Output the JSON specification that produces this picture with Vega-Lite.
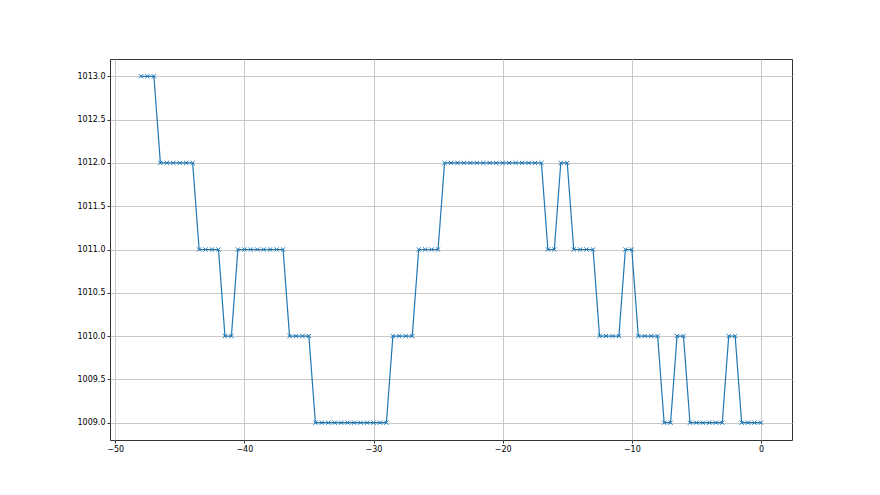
{
  "$schema": "https://vega.github.io/schema/vega-lite/v6.json",
  "autosize": {"type": "none"},
  "width": 682,
  "height": 381,
  "padding": {"left": 110, "top": 59, "right": 88, "bottom": 55},
  "background": "white",
  "config": {
    "view": {"stroke": "#333333", "strokeWidth": 1},
    "axis": {
      "labelFont": "DejaVu Sans",
      "labelFontSize": 8,
      "labelColor": "#000000",
      "domain": false,
      "tickColor": "#333333",
      "tickSize": 3,
      "tickWidth": 1,
      "gridColor": "#c8c8c8",
      "gridWidth": 1,
      "labelPadding": 2,
      "title": null
    }
  },
  "data": {
    "values": [
      {"t": -48, "p": 1013}, {"t": -47.5, "p": 1013}, {"t": -47, "p": 1013},
      {"t": -46.5, "p": 1012}, {"t": -46, "p": 1012}, {"t": -45.5, "p": 1012}, {"t": -45, "p": 1012}, {"t": -44.5, "p": 1012}, {"t": -44, "p": 1012},
      {"t": -43.5, "p": 1011}, {"t": -43, "p": 1011}, {"t": -42.5, "p": 1011}, {"t": -42, "p": 1011},
      {"t": -41.5, "p": 1010}, {"t": -41, "p": 1010},
      {"t": -40.5, "p": 1011}, {"t": -40, "p": 1011}, {"t": -39.5, "p": 1011}, {"t": -39, "p": 1011}, {"t": -38.5, "p": 1011}, {"t": -38, "p": 1011}, {"t": -37.5, "p": 1011}, {"t": -37, "p": 1011},
      {"t": -36.5, "p": 1010}, {"t": -36, "p": 1010}, {"t": -35.5, "p": 1010}, {"t": -35, "p": 1010},
      {"t": -34.5, "p": 1009}, {"t": -34, "p": 1009}, {"t": -33.5, "p": 1009}, {"t": -33, "p": 1009}, {"t": -32.5, "p": 1009}, {"t": -32, "p": 1009}, {"t": -31.5, "p": 1009}, {"t": -31, "p": 1009}, {"t": -30.5, "p": 1009}, {"t": -30, "p": 1009}, {"t": -29.5, "p": 1009}, {"t": -29, "p": 1009},
      {"t": -28.5, "p": 1010}, {"t": -28, "p": 1010}, {"t": -27.5, "p": 1010}, {"t": -27, "p": 1010},
      {"t": -26.5, "p": 1011}, {"t": -26, "p": 1011}, {"t": -25.5, "p": 1011}, {"t": -25, "p": 1011},
      {"t": -24.5, "p": 1012}, {"t": -24, "p": 1012}, {"t": -23.5, "p": 1012}, {"t": -23, "p": 1012}, {"t": -22.5, "p": 1012}, {"t": -22, "p": 1012}, {"t": -21.5, "p": 1012}, {"t": -21, "p": 1012}, {"t": -20.5, "p": 1012}, {"t": -20, "p": 1012}, {"t": -19.5, "p": 1012}, {"t": -19, "p": 1012}, {"t": -18.5, "p": 1012}, {"t": -18, "p": 1012}, {"t": -17.5, "p": 1012}, {"t": -17, "p": 1012},
      {"t": -16.5, "p": 1011}, {"t": -16, "p": 1011},
      {"t": -15.5, "p": 1012}, {"t": -15, "p": 1012},
      {"t": -14.5, "p": 1011}, {"t": -14, "p": 1011}, {"t": -13.5, "p": 1011}, {"t": -13, "p": 1011},
      {"t": -12.5, "p": 1010}, {"t": -12, "p": 1010}, {"t": -11.5, "p": 1010}, {"t": -11, "p": 1010},
      {"t": -10.5, "p": 1011}, {"t": -10, "p": 1011},
      {"t": -9.5, "p": 1010}, {"t": -9, "p": 1010}, {"t": -8.5, "p": 1010}, {"t": -8, "p": 1010},
      {"t": -7.5, "p": 1009}, {"t": -7, "p": 1009},
      {"t": -6.5, "p": 1010}, {"t": -6, "p": 1010},
      {"t": -5.5, "p": 1009}, {"t": -5, "p": 1009}, {"t": -4.5, "p": 1009}, {"t": -4, "p": 1009}, {"t": -3.5, "p": 1009}, {"t": -3, "p": 1009},
      {"t": -2.5, "p": 1010}, {"t": -2, "p": 1010},
      {"t": -1.5, "p": 1009}, {"t": -1, "p": 1009}, {"t": -0.5, "p": 1009}, {"t": 0, "p": 1009}
    ]
  },
  "encoding": {
    "x": {
      "field": "t", "type": "quantitative",
      "scale": {"domain": [-50.4, 2.4], "nice": false, "zero": false},
      "axis": {"values": [-50, -40, -30, -20, -10, 0], "format": "d"}
    },
    "y": {
      "field": "p", "type": "quantitative",
      "scale": {"domain": [1008.8, 1013.2], "nice": false, "zero": false},
      "axis": {"values": [1009, 1009.5, 1010, 1010.5, 1011, 1011.5, 1012, 1012.5, 1013], "format": ".1f"}
    }
  },
  "layer": [
    {"mark": {"type": "line", "color": "#1f77b4", "strokeWidth": 1.2}},
    {"mark": {"type": "point", "shape": "M-1,-1L1,1M1,-1L-1,1", "filled": false, "color": "#1f77b4", "strokeWidth": 1, "size": 18, "opacity": 1}}
  ]
}
